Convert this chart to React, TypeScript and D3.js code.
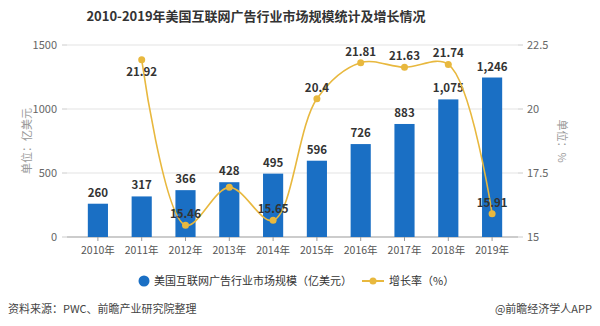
import React from "react";
import * as d3 from "d3";

const years = ["2010年","2011年","2012年","2013年","2014年","2015年","2016年","2017年","2018年","2019年"];
const marketSize = [260, 317, 366, 428, 495, 596, 726, 883, 1075, 1246];
const growth: (number | null)[] = [null, 21.92, 15.46, 16.94, 15.65, 20.4, 21.81, 21.63, 21.74, 15.91];
const growthLabels: (string | null)[] = [null, "21.92", "15.46", null, "15.65", "20.4", "21.81", "21.63", "21.74", "15.91"];
const leftTicks = [0, 500, 1000, 1500];
const rightTicks = [15, 17.5, 20, 22.5];

const W = 600, H = 326;
const plotL = 76, plotR = 514, plotT = 45, plotB = 237;
const BAR = "#1a6fc4";
const LINE = "#e8b83e";
const FONT = "'Noto Sans CJK SC', 'Noto Sans', sans-serif";

export default function App() {
  const x = d3.scaleBand<string>().domain(years).range([plotL, plotR]).paddingInner(0.54).paddingOuter(0.27);
  const yL = d3.scaleLinear().domain([0, 1500]).range([plotB, plotT]);
  const yR = d3.scaleLinear().domain([15, 22.5]).range([plotB, plotT]);
  const cx = (y: string) => (x(y) as number) + x.bandwidth() / 2;
  const pts = years.map((y, i) => ({ y, v: growth[i] })).filter(d => d.v !== null) as { y: string; v: number }[];
  const line = d3.line<{ y: string; v: number }>().x(d => cx(d.y)).y(d => yR(d.v)).curve(d3.curveCatmullRom.alpha(0.5));
  const fmt = d3.format(",");
  return (
    <svg width={W} height={H} style={{ position: "absolute", left: 0, top: 0, fontFamily: FONT }}>
      <rect width={W} height={H} fill="#fff" />
      <text x={256} y={21} textAnchor="middle" fontSize={13} fontWeight="bold" fill="#333">2010-2019年美国互联网广告行业市场规模统计及增长情况</text>
      {leftTicks.map(t => (
        <g key={t}>
          {t > 0 && <line x1={67} x2={518} y1={yL(t)} y2={yL(t)} stroke="#e3e3e3" />}
          <line x1={62} x2={67} y1={yL(t)} y2={yL(t)} stroke="#ccc" />
          <text x={57} y={yL(t) + 4} textAnchor="end" fontSize={11} fill="#666">{t}</text>
        </g>
      ))}
      {rightTicks.map(t => (
        <g key={t}>
          <line x1={518} x2={523} y1={yR(t)} y2={yR(t)} stroke="#ccc" />
          <text x={527} y={yR(t) + 4} textAnchor="start" fontSize={11} fill="#666">{t}</text>
        </g>
      ))}
      <line x1={67} x2={518} y1={plotB} y2={plotB} stroke="#999" />
      {years.map(y => (
        <g key={y}>
          <line x1={cx(y)} x2={cx(y)} y1={plotB} y2={plotB + 4} stroke="#999" />
          <text x={cx(y)} y={plotB + 17} textAnchor="middle" fontSize={10.5} fill="#555">{y}</text>
        </g>
      ))}
      <text transform={`translate(31,${141}) rotate(-90)`} textAnchor="middle" fontSize={11} fill="#999">单位：亿美元</text>
      <text transform={`translate(558,${141}) rotate(90)`} textAnchor="middle" fontSize={11} fill="#999">单位：%</text>
      {years.map((y, i) => (
        <g key={"b" + y}>
          <rect x={x(y)} y={yL(marketSize[i])} width={x.bandwidth()} height={plotB - yL(marketSize[i])} fill={BAR} />
          <text x={cx(y)} y={yL(marketSize[i]) - 7} textAnchor="middle" fontSize={11.5} fontWeight="bold" fill="#333">{fmt(marketSize[i])}</text>
        </g>
      ))}
      <path d={line(pts) || ""} fill="none" stroke={LINE} strokeWidth={1.6} />
      {pts.map(d => (
        <circle key={"c" + d.y} cx={cx(d.y)} cy={yR(d.v)} r={3.5} fill={LINE} />
      ))}
      {years.map((y, i) => {
        const lbl = growthLabels[i];
        const v = growth[i];
        if (!lbl || v === null) return null;
        const below = i === 1;
        return (
          <text key={"l" + y} x={cx(y)} y={below ? yR(v) + 16 : yR(v) - 7} textAnchor="middle" fontSize={11.5} fontWeight="bold" fill="#333">{lbl}</text>
        );
      })}
      <circle cx={144} cy={281} r={5.5} fill={BAR} />
      <text x={154} y={285} fontSize={11} fill="#333">美国互联网广告行业市场规模（亿美元）</text>
      <line x1={362} x2={384} y1={281} y2={281} stroke={LINE} strokeWidth={2} />
      <circle cx={373} cy={281} r={3.5} fill={LINE} />
      <text x={389} y={285} fontSize={11} fill="#333">增长率（%）</text>
      <text x={8} y={313} fontSize={11} fill="#444">资料来源：PWC、前瞻产业研究院整理</text>
      <text x={592} y={313} textAnchor="end" fontSize={11} fill="#444">@前瞻经济学人APP</text>
    </svg>
  );
}
